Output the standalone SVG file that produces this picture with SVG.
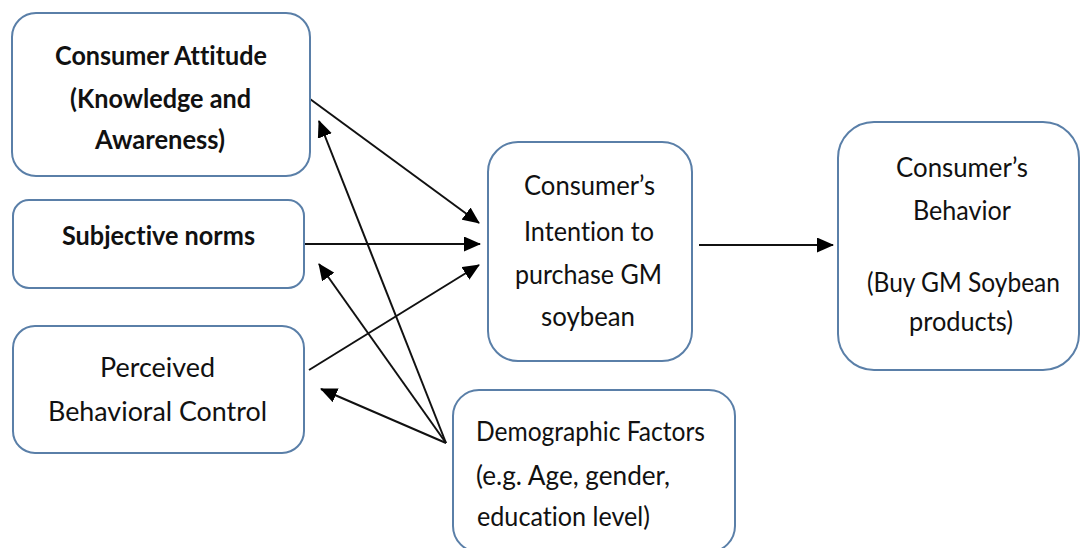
<svg xmlns="http://www.w3.org/2000/svg" width="1080" height="548" viewBox="0 0 1080 548">
<style>
.box{fill:#ffffff;stroke:#5a7fa8;stroke-width:2}
.t{font-family:Lato,"Open Sans","Liberation Sans",sans-serif;font-size:26px;fill:#111111;font-variant-ligatures:none}
.b{font-weight:bold}
.c{text-anchor:middle}
.ln{stroke:#111111;stroke-width:2;fill:none}
</style>
<defs>
<marker id="ah" markerUnits="userSpaceOnUse" markerWidth="17" markerHeight="15" refX="16" refY="7.5" orient="auto">
<path d="M0,0 L17,7.5 L0,15 Z" fill="#000000"/>
</marker>
</defs>
<rect width="1080" height="548" fill="#ffffff"/>
<g id="connectors">
<line class="ln" x1="310" y1="99" x2="479" y2="223" marker-end="url(#ah)"/>
<line class="ln" x1="304" y1="244" x2="480" y2="244" marker-end="url(#ah)"/>
<line class="ln" x1="309" y1="370" x2="479" y2="265" marker-end="url(#ah)"/>
<line class="ln" x1="699" y1="245" x2="833" y2="245" marker-end="url(#ah)"/>
<line class="ln" x1="446" y1="443" x2="319" y2="121" marker-end="url(#ah)"/>
<line class="ln" x1="446" y1="443" x2="319" y2="264" marker-end="url(#ah)"/>
<line class="ln" x1="446" y1="443" x2="321" y2="389" marker-end="url(#ah)"/>
</g>
<g id="attitude">
<rect class="box" x="12" y="13" width="298" height="163" rx="24"/>
<text class="t b c" x="161" y="65" textLength="212" lengthAdjust="spacingAndGlyphs">Consumer Attitude</text>
<text class="t b c" x="160.5" y="108" textLength="181" lengthAdjust="spacingAndGlyphs">(Knowledge and</text>
<text class="t b c" x="160" y="149" textLength="130" lengthAdjust="spacingAndGlyphs">Awareness)</text>
</g>
<g id="norms">
<rect class="box" x="13" y="200" width="291" height="88" rx="16"/>
<text class="t b c" x="158.5" y="245" textLength="193" lengthAdjust="spacingAndGlyphs">Subjective norms</text>
</g>
<g id="pbc">
<rect class="box" x="13" y="326" width="291" height="127" rx="22"/>
<text class="t c" x="157.5" y="377" textLength="115" lengthAdjust="spacingAndGlyphs">Perceived</text>
<text class="t c" x="157.5" y="421" textLength="219" lengthAdjust="spacingAndGlyphs">Behavioral Control</text>
</g>
<g id="intention">
<rect class="box" x="488" y="142" width="204" height="219" rx="30"/>
<text class="t c" x="589.5" y="195" textLength="131" lengthAdjust="spacingAndGlyphs">Consumer’s</text>
<text class="t c" x="589" y="241" textLength="130" lengthAdjust="spacingAndGlyphs">Intention to</text>
<text class="t c" x="588.5" y="284" textLength="147" lengthAdjust="spacingAndGlyphs">purchase GM</text>
<text class="t c" x="588" y="326" textLength="94" lengthAdjust="spacingAndGlyphs">soybean</text>
</g>
<g id="behavior">
<rect class="box" x="838" y="122" width="241" height="248" rx="36"/>
<text class="t c" x="962" y="177" textLength="132" lengthAdjust="spacingAndGlyphs">Consumer’s</text>
<text class="t c" x="962" y="220" textLength="98" lengthAdjust="spacingAndGlyphs">Behavior</text>
<text class="t c" x="963.5" y="292" textLength="193" lengthAdjust="spacingAndGlyphs">(Buy GM Soybean</text>
<text class="t c" x="961" y="331" textLength="104" lengthAdjust="spacingAndGlyphs">products)</text>
</g>
<g id="demographic">
<rect class="box" x="453" y="390" width="282" height="162" rx="26"/>
<text class="t" x="476" y="441" textLength="229" lengthAdjust="spacingAndGlyphs">Demographic Factors</text>
<text class="t" x="476" y="485" textLength="194" lengthAdjust="spacingAndGlyphs">(e.g. Age, gender,</text>
<text class="t" x="477" y="526" textLength="173" lengthAdjust="spacingAndGlyphs">education level)</text>
</g>
</svg>
